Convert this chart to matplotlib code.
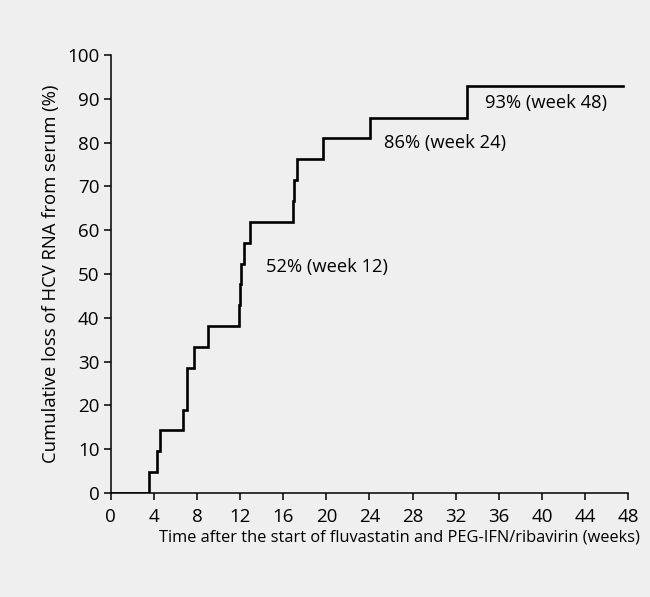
import matplotlib
matplotlib.use("Agg")
import matplotlib.pyplot as plt

# step times (weeks) and cumulative loss (%)
weeks = [0, 3.57, 4.28, 4.53, 6.67, 7.07, 7.1, 7.7, 9.0,
         11.9, 11.95, 12.05, 12.35, 12.9, 16.95, 17.0, 17.3,
         19.7, 24.05, 33.0, 47.5]
loss = [0, 4.76, 9.52, 14.29, 19.05, 23.81, 28.57, 33.33, 38.1,
        42.86, 47.62, 52.38, 57.14, 61.9, 66.67, 71.43, 76.19,
        80.95, 85.71, 92.86, 92.86]

labels = ["52% (week 12)", "86% (week 24)", "93% (week 48)"]
label_x = [14.4, 25.3, 34.7]
label_y = [51.6, 80.0, 89.0]

xticks = list(range(0, 49, 4))
yticks = list(range(0, 101, 10))

plt.rcParams['font.family'] = ['Open Sans', 'DejaVu Sans']

fig = plt.figure(figsize=(6.5, 5.97), dpi=100)
bg = '#efefef'
fig.patch.set_facecolor(bg)
ax = fig.add_axes([0.1703, 0.1742, 0.7963, 0.7337])
ax.set_facecolor(bg)

ax.step(weeks, loss, where='post', color='black', lw=1.9, solid_joinstyle='miter')

for txt, x, y in zip(labels, label_x, label_y):
    ax.text(x, y, txt, fontsize=13.2, va='center', ha='left')

ax.set_xlim(0, 48)
ax.set_ylim(0, 100)
ax.set_xticks(xticks)
ax.set_yticks(yticks)
ax.tick_params(direction='out', length=5, width=1.1, labelsize=13.5)
ax.tick_params(axis='x', pad=6)
ax.tick_params(axis='y', pad=3)
ax.spines['top'].set_visible(False)
ax.spines['right'].set_visible(False)
for s in ['left', 'bottom']:
    ax.spines[s].set_linewidth(1.1)

ax.set_xlabel('Time after the start of fluvastatin and PEG-IFN/ribavirin (weeks)',
              fontsize=11.8, va='center')
ax.xaxis.set_label_coords(0.557, -0.101)
ax.set_ylabel('Cumulative loss of HCV RNA from serum (%)', fontsize=13.3, labelpad=5)

fig.savefig('out.png', dpi=100, facecolor=bg)
